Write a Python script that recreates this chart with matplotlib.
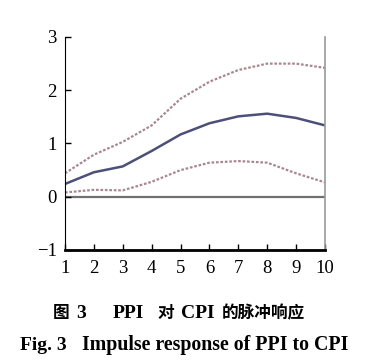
import numpy as np
import matplotlib.pyplot as plt

# impulse response of PPI to CPI (periods 1..10)
periods = [1, 2, 3, 4, 5, 6, 7, 8, 9, 10]
response = [0.24, 0.46, 0.57, 0.86, 1.17, 1.38, 1.51, 1.56, 1.48, 1.34]
upper_band = [0.44, 0.79, 1.03, 1.34, 1.84, 2.16, 2.38, 2.50, 2.50, 2.42]
lower_band = [0.08, 0.13, 0.12, 0.28, 0.50, 0.64, 0.67, 0.64, 0.44, 0.27]

y_ticks = [-1, 0, 1, 2, 3]

# caption pieces, laid out with the wide spacing of the printed figure
cap_cn = ["图", "3", "PPI", "对", "CPI", "的脉冲响应"]
cap_en = ["Fig. 3", "Impulse response of PPI to CPI"]

W, H = 369, 363
fig = plt.figure(figsize=(W / 100, H / 100), dpi=100)
ax = fig.add_axes([65 / W, 1 - 250 / H, 260 / W, 213 / H])

ax.axhline(0, color='#707070', lw=1.6, zorder=1)
ax.plot(periods, upper_band, color='#a88890', lw=1.6, ls=(0, (1.2, 0.8)))
ax.plot(periods, lower_band, color='#a88890', lw=1.6, ls=(0, (1.2, 0.8)))
ax.plot(periods, response, color='#4c5078', lw=1.8)

ax.set_xlim(1, 10)
ax.set_ylim(-1, 3)
ax.set_xticks(periods)
ax.set_yticks(y_ticks)
ax.set_yticklabels(['\u22121', '0', '1', '2', '3'])

ax.spines['top'].set_visible(False)
ax.spines['right'].set_color('#9a9a9a')
ax.spines['right'].set_linewidth(1.2)
ax.spines['left'].set_linewidth(0.8)
ax.spines['bottom'].set_linewidth(2.0)

ax.tick_params(axis='both', direction='in', length=4, width=1.0,
               labelsize=13.5)
ax.tick_params(axis='x', pad=7)
ax.tick_params(axis='y', pad=6)
for lab in ax.get_xticklabels() + ax.get_yticklabels():
    lab.set_fontfamily('Liberation Serif')

serif = 'Liberation Serif'
cjk = 'Noto Sans CJK SC'
cn_x = [53, 76, 113, 157, 181, 222]
cn_fam = [cjk, serif, serif, cjk, serif, cjk]
for txt, x, fam in zip(cap_cn, cn_x, cn_fam):
    size = 12 if fam == cjk else 14
    fig.text(x / W, 1 - 313 / H, txt, ha='left', va='center',
             fontsize=size, fontweight='bold', family=fam)

fig.text(20 / W, 1 - 345 / H, cap_en[0], ha='left', va='center',
         fontsize=14, fontweight='bold', family=serif)
fig.text(82 / W, 1 - 345 / H, cap_en[1], ha='left', va='center',
         fontsize=14.3, fontweight='bold', family=serif)

fig.savefig('out.png', dpi=100)
